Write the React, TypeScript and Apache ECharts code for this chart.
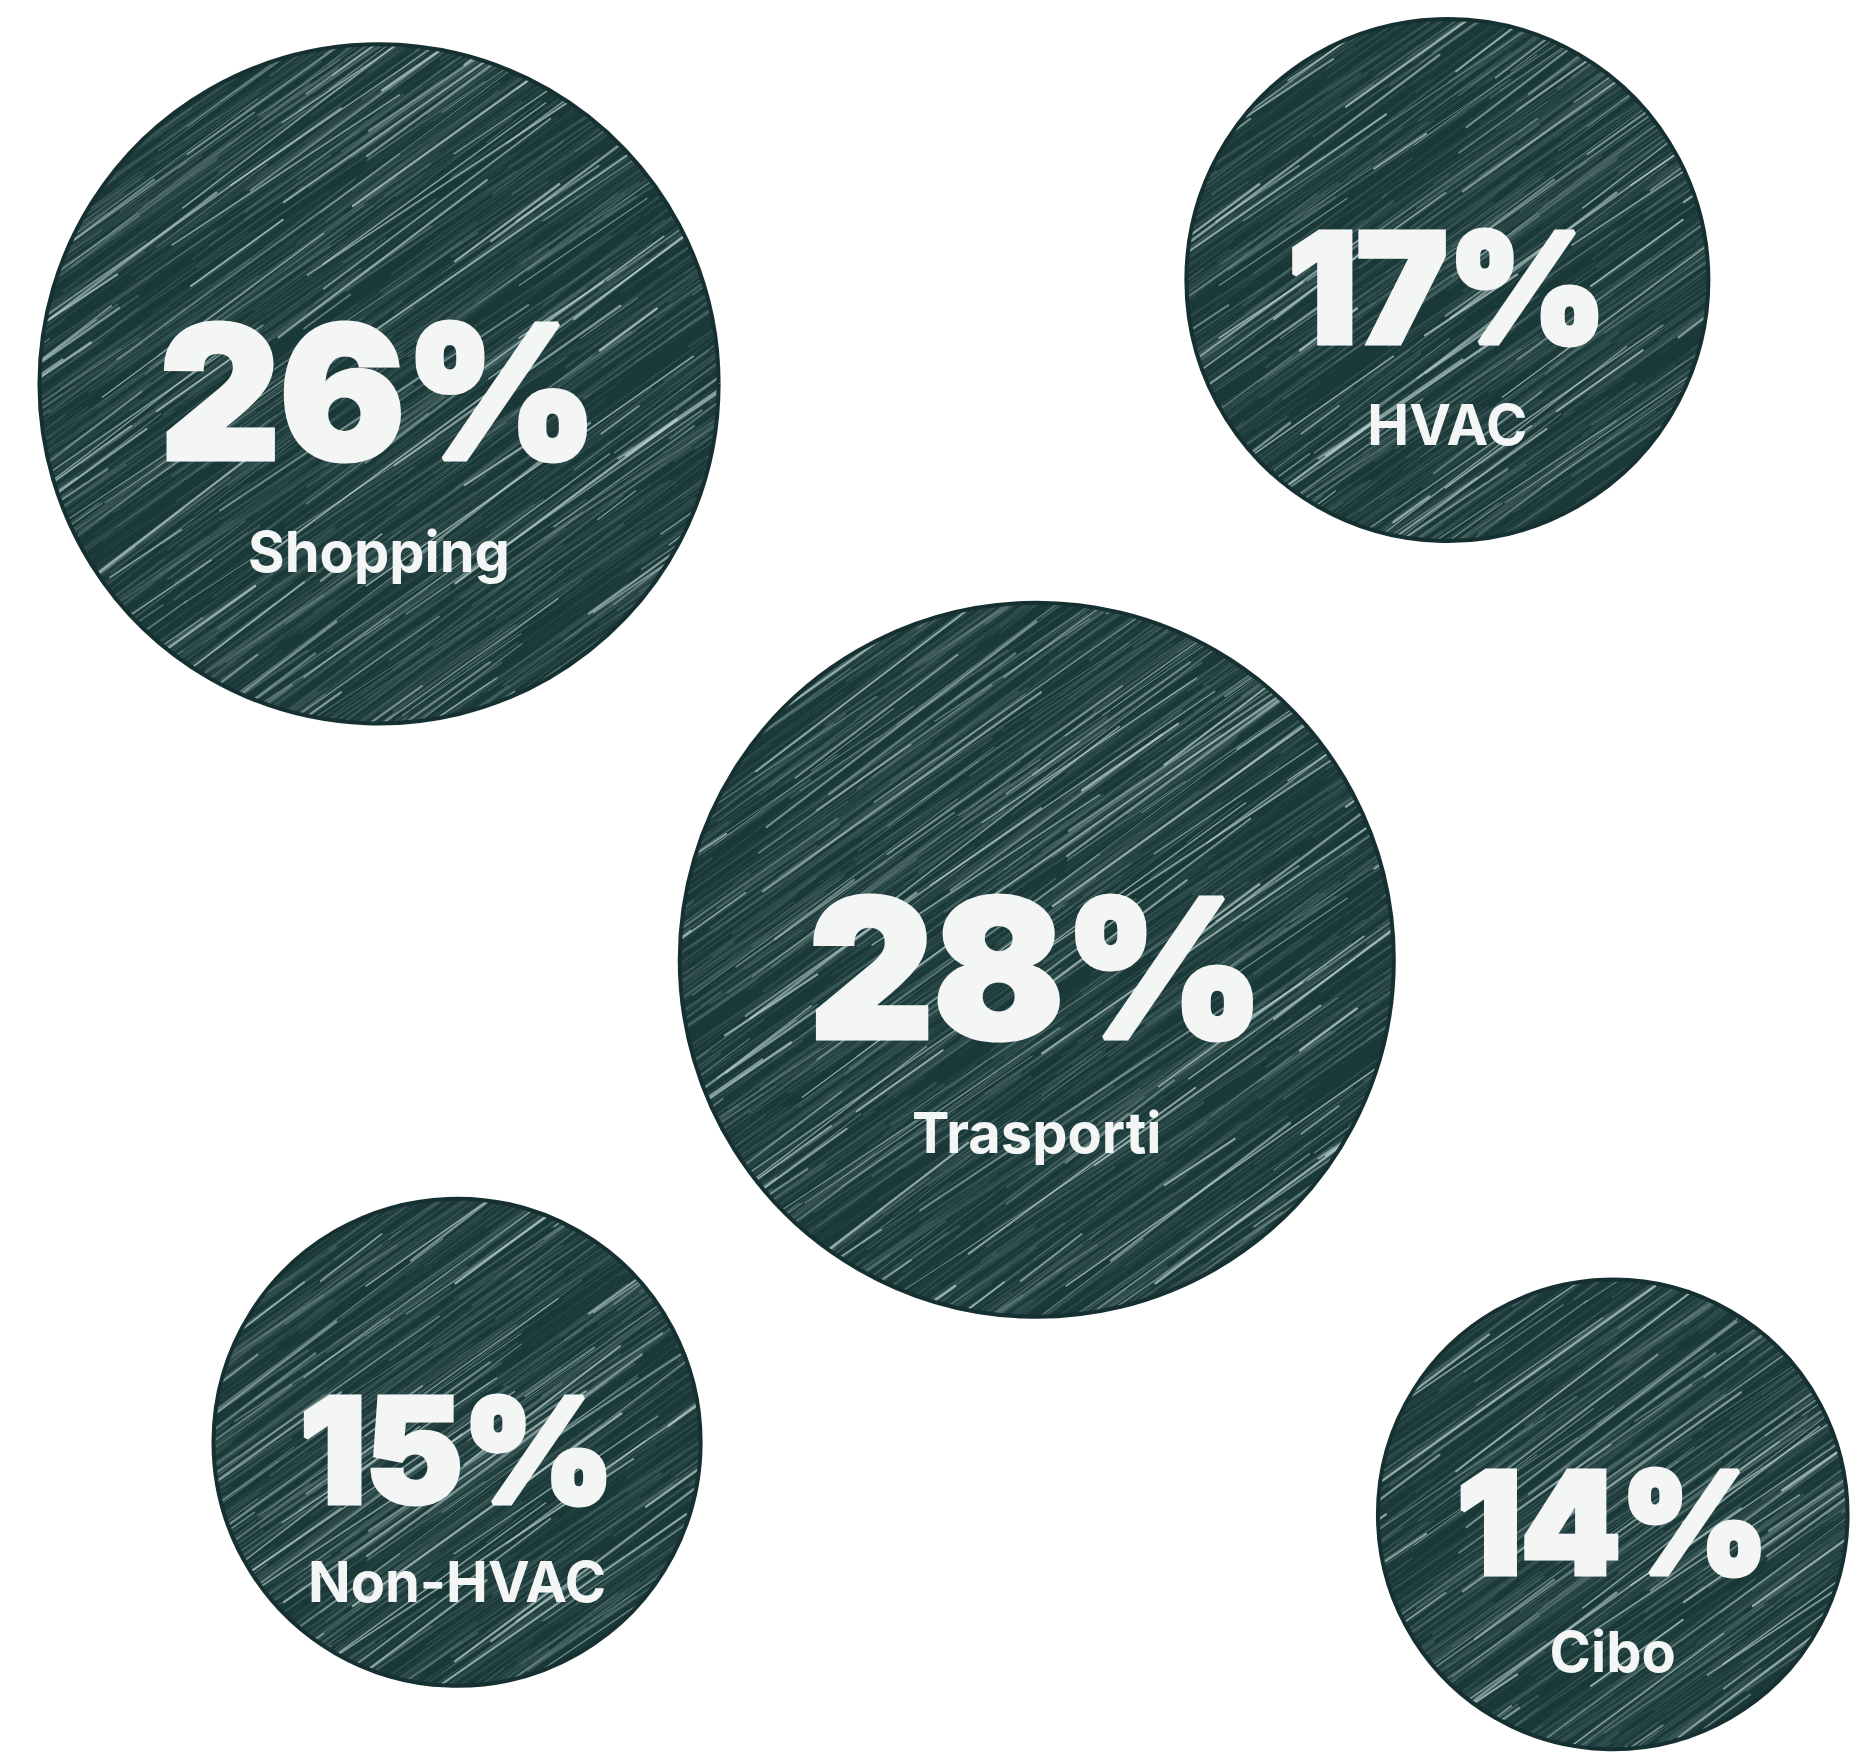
import React, { useEffect, useRef } from "react";
import * as echarts from "echarts";

// Data
const categories = ["Shopping", "HVAC", "Trasporti", "Non-HVAC", "Cibo"];
const shares = [26, 17, 28, 15, 14];
// Layout positions of the bubbles (percent of chart width / height)
const layoutX = [20.4, 77.9, 55.8, 24.6, 86.8];
const layoutY = [21.8, 15.9, 54.5, 81.9, 86.0];

const BASE = "#1b3839";
const TEXT = "#f3f6f4";

const radiusOf = (v: number) => 8.73 * v + 114.6;
const pctFontOf = (v: number) => 3.594 * v + 91.5;

// Chalk-like hatching texture (style only), seamless tile
function makeTexture(): HTMLCanvasElement {
  const W = 700;
  const H = 700;
  const c = document.createElement("canvas");
  c.width = W;
  c.height = H;
  const ctx = c.getContext("2d")!;
  ctx.fillStyle = BASE;
  ctx.fillRect(0, 0, W, H);
  let seed = 24681;
  const rnd = () => {
    seed = (seed * 1103515245 + 12345) % 2147483648;
    return seed / 2147483648;
  };
  ctx.lineCap = "round";
  const draw = (x0: number, y0: number, x1: number, y1: number) => {
    for (const dx of [-W, 0, W]) {
      for (const dy of [-H, 0, H]) {
        ctx.beginPath();
        ctx.moveTo(x0 + dx, y0 + dy);
        ctx.lineTo(x1 + dx, y1 + dy);
        ctx.stroke();
      }
    }
  };
  for (let i = 0; i < 950; i++) {
    const x0 = rnd() * W;
    const y0 = rnd() * H;
    const len = 40 + rnd() * 380;
    const ang = -(0.62 + (rnd() - 0.5) * 0.08);
    const bright = rnd();
    const alpha = bright > 0.88 ? 0.35 + rnd() * 0.4 : 0.04 + rnd() * 0.14;
    ctx.lineWidth = 0.6 + rnd() * 2.0;
    ctx.strokeStyle = `rgba(190,215,212,${alpha.toFixed(3)})`;
    draw(x0, y0, x0 + len * Math.cos(ang), y0 + len * Math.sin(ang));
  }
  return c;
}

export default function App() {
  const ref = useRef<HTMLDivElement>(null);
  useEffect(() => {
    document.body.style.margin = "0";
    if (!ref.current) return;
    const chart = echarts.init(ref.current, undefined, { renderer: "svg" });
    const texture = makeTexture();
    const data = categories.map((name, i) => ({
      name,
      value: [layoutX[i], layoutY[i], shares[i]],
    }));
    chart.setOption({
      animation: false,
      backgroundColor: "#ffffff",
      grid: { left: 0, right: 0, top: 0, bottom: 0 },
      xAxis: { type: "value", min: 0, max: 100, show: false },
      yAxis: { type: "value", min: 0, max: 100, inverse: true, show: false },
      series: [
        {
          type: "custom",
          silent: true,
          clip: false,
          data,
          encode: { x: 0, y: 1 },
          renderItem: (params: any, api: any) => {
            const idx = params.dataIndex;
            const v = api.value(2);
            const [cx, cy] = api.coord([api.value(0), api.value(1)]);
            const r = radiusOf(v);
            const pf = pctFontOf(v);
            const dist = 58 + 0.3 * r;
            return {
              type: "group",
              children: [
                {
                  type: "circle",
                  shape: { cx, cy, r: r - 2 },
                  style: {
                    fill: { image: texture, repeat: "repeat" },
                    stroke: "#163032",
                    lineWidth: 4,
                  },
                },
                {
                  type: "text",
                  x: cx,
                  y: cy + 8,
                  style: {
                    text: `${v}%`,
                    fill: TEXT,
                    stroke: TEXT,
                    lineWidth: 5,
                    fontFamily: "Inter",
                    fontWeight: 900,
                    fontSize: pf,
                    align: "center",
                    verticalAlign: "middle",
                  },
                },
                {
                  type: "text",
                  x: cx,
                  y: cy + 8 + dist,
                  style: {
                    text: categories[idx],
                    fill: TEXT,
                    fontFamily: "Inter",
                    fontWeight: 700,
                    fontSize: 56,
                    align: "center",
                    verticalAlign: "middle",
                  },
                },
              ],
            };
          },
        },
      ],
    });
    return () => chart.dispose();
  }, []);
  return <div ref={ref} style={{ width: "1858px", height: "1761px" }} />;
}
